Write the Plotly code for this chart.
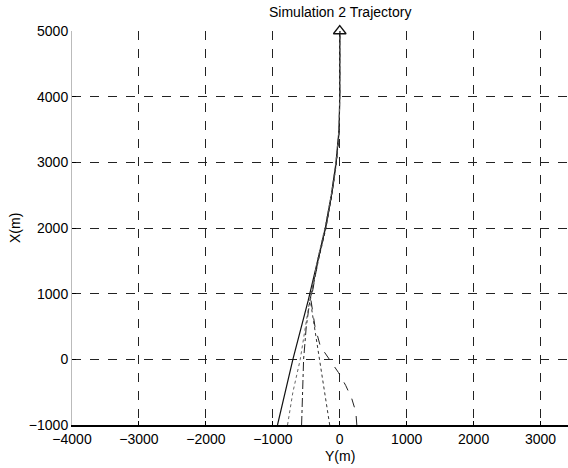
import plotly.graph_objects as go

# Data: horizontal axis is Y(m), vertical axis is X(m)
t1_y = [-930, -700, -470, -330, -215, -125, -55, -10, 0, 0]
t1_x = [-1000, 0, 900, 1500, 2000, 2500, 3000, 3500, 4000, 5000]

t2_y = [-570, -560, -540, -500, -445, -325, -210, -120, -50, -5, 0, 0]
t2_x = [-1000, -500, 0, 500, 900, 1500, 2000, 2500, 3000, 3500, 4000, 5000]

t3_y = [-150, -210, -300, -380, -440, -320, -205, -118, -48, -8, 0, 0]
t3_x = [-1000, -600, 0, 500, 900, 1500, 2000, 2500, 3000, 3500, 4000, 5000]

t4_y = [255, 240, 180, 90, -20, -160, -290, -370, -430, -325, -212, -122, -52, -8, 0, 0]
t4_x = [-1000, -800, -600, -400, -200, 0, 200, 500, 900, 1500, 2000, 2500, 3000, 3500, 4000, 5000]

t5_y = [-780, -700, -590, -465, -335, -222, -128, -58, -12, 0, 0]
t5_x = [-1000, -500, 0, 800, 1500, 2000, 2500, 3000, 3500, 4000, 5000]

target_y = [0]
target_x = [5000]

x_ticks = [-4000, -3000, -2000, -1000, 0, 1000, 2000, 3000]
y_ticks = [-1000, 0, 1000, 2000, 3000, 4000, 5000]

fig = go.Figure()
styles = [
    (t1_y, t1_x, "solid", "#111111", 1.2),
    (t2_y, t2_x, "dashdot", "#222222", 1.0),
    (t3_y, t3_x, "dot", "#333333", 1.0),
    (t4_y, t4_x, "dash", "#222222", 1.0),
    (t5_y, t5_x, "dot", "#666666", 1.0),
]
for ys, xs, dash, col, w in styles:
    fig.add_trace(go.Scatter(x=ys, y=xs, mode="lines",
                             line=dict(color=col, width=w, dash=dash),
                             showlegend=False, hoverinfo="skip"))

fig.add_trace(go.Scatter(x=target_y, y=target_x, mode="markers",
                         marker=dict(symbol="triangle-up-open", size=11,
                                     color="#111111", line=dict(width=1.3)),
                         cliponaxis=False, showlegend=False))

xmin, xmax = -4000, 3410
fig.update_layout(
    width=568, height=468,
    margin=dict(l=72, r=0, t=31, b=43),
    paper_bgcolor="white", plot_bgcolor="white",
    font=dict(family="Liberation Sans, Arial, sans-serif", size=14, color="black"),
    xaxis=dict(range=[xmin, xmax], tickvals=x_ticks, ticks="inside", ticklen=4,
               tickcolor="black", showgrid=True, gridcolor="#222222", griddash="dash",
               gridwidth=1, showline=True, linecolor="black", linewidth=1.5,
               zeroline=False, tickfont=dict(size=14)),
    yaxis=dict(range=[-1000, 5000], tickvals=y_ticks, ticks="inside", ticklen=4,
               tickcolor="black", showgrid=True, gridcolor="#222222", griddash="dash",
               gridwidth=1, showline=True, linecolor="#bbbbbb", linewidth=1,
               zeroline=False, tickfont=dict(size=14)),
    annotations=[
        dict(text="Simulation 2 Trajectory", x=(0 - xmin) / (xmax - xmin), y=1,
             xref="paper", yref="paper", yanchor="bottom", xanchor="center",
             yshift=9, showarrow=False, font=dict(size=14)),
        dict(text="Y(m)", x=(0 - xmin) / (xmax - xmin), y=0, xref="paper", yref="paper",
             yanchor="top", xanchor="center", yshift=-21, showarrow=False,
             font=dict(size=14)),
        dict(text="X(m)", x=0, y=0.5, xref="paper", yref="paper", textangle=-90,
             xanchor="center", yanchor="middle", xshift=-57, showarrow=False,
             font=dict(size=14)),
    ],
)

fig.write_html("out.html")
